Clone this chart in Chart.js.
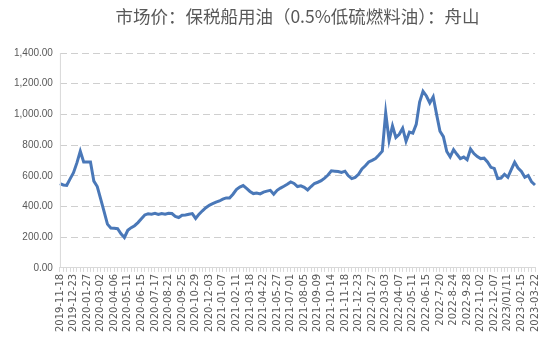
<!DOCTYPE html>
<html>
<head>
<meta charset="utf-8">
<script src="https://cdn.jsdelivr.net/npm/chart.js@4.4.1/dist/chart.umd.min.js"></script>
<style>
  html, body { margin: 0; padding: 0; background: #ffffff; }
  #wrap { width: 550px; height: 344px; }
</style>
</head>
<body>
<div id="wrap"><canvas id="myChart"></canvas></div>
<script>
//Chart title
const chartTitle = '市场价：保税船用油（0.5%低硫燃料油）：舟山';

//Dates shown on the x axis (one every 4 points)
const tickLabels = [
    '2019-11-18', '2019-12-23', '2020-01-27', '2020-03-02', '2020-04-06', '2020-05-11',
    '2020-06-15', '2020-07-17', '2020-08-21', '2020-09-25', '2020-10-29', '2020-12-03',
    '2021-01-07', '2021-02-11', '2021-03-18', '2021-04-22', '2021-05-27', '2021-07-01',
    '2021-08-05', '2021-09-09', '2021-10-14', '2021-11-18', '2021-12-23', '2022-01-27',
    '2022-03-03', '2022-04-07', '2022-05-11', '2022-06-15', '2022-7-20', '2022-8-24',
    '2022-9-28', '2022-11-02', '2022-12-07', '2023/01/11', '2023-02-15', '2023-03-22'
];

//Points between two shown dates
const pointsPerTick = 4;

//Price values
const prices = [
    549, 540, 538, 580, 620, 684, 760, 690, 690, 690,
    565, 530, 450, 368, 285, 260, 258, 255, 222, 198,
    245, 262, 275, 295, 320, 345, 352, 350, 355, 348,
    354, 350, 356, 354, 335, 328, 343, 345, 350, 354,
    322, 350, 372, 392, 408, 418, 428, 436, 448, 456,
    455, 480, 510, 526, 536, 518, 498, 484, 488, 482,
    494, 500, 505, 480, 505, 520, 532, 545, 560, 550,
    530, 535, 525, 508, 530, 550, 558, 568, 585, 605,
    632, 630, 628, 622, 630, 600, 582, 590, 610, 645,
    665, 690, 700, 712, 735, 760, 1010, 830, 925, 850,
    870, 910, 825, 885, 878, 935, 1080, 1150, 1120, 1075,
    1115, 1000, 890, 855, 758, 723, 770, 740, 712, 722,
    705, 775, 745, 725, 712, 715, 690, 655, 648, 582,
    585, 610, 590, 640, 688, 650, 628, 590, 602, 560,
    540
];

//Y axis range
const yMin = 0;
const yMax = 1400;
const yStep = 200;

//Build the category labels, only every 4th one has a date
const labels = [];
for (var i = 0; i < prices.length; i++)
{
    if (i % pointsPerTick == 0)
    {
        labels.push(tickLabels[i / pointsPerTick]);
    }
    else
    {
        labels.push('');
    }
}

const ctx = document.getElementById('myChart').getContext('2d');

const myChart = new Chart(ctx, {
    type: 'line',
    data: {
        labels: labels,
        datasets: [{
            data: prices,
            borderColor: '#4a78b8',
            borderWidth: 3,
            pointRadius: 0,
            tension: 0,
            fill: false
        }]
    },
    options: {
        responsive: true,
        maintainAspectRatio: false,
        animation: false,
        layout: {
            padding: { left: 7, right: 15, top: 6, bottom: 10 }
        },
        plugins: {
            legend: { display: false },
            tooltip: { enabled: false },
            title: {
                display: true,
                text: chartTitle,
                fullSize: false,
                color: '#595959',
                font: { family: "'Noto Sans CJK SC', sans-serif", size: 17.5, weight: 'normal' },
                padding: { top: 0, bottom: 26 }
            }
        },
        scales: {
            x: {
                offset: false,
                grid: {
                    display: true,
                    drawOnChartArea: false,
                    drawTicks: true,
                    tickLength: 4,
                    color: '#d9d9d9'
                },
                border: { color: '#d9d9d9' },
                ticks: {
                    autoSkip: false,
                    maxRotation: 90,
                    minRotation: 90,
                    padding: 2,
                    color: '#595959',
                    font: { family: "'DejaVu Sans', sans-serif", size: 10 }
                }
            },
            y: {
                min: yMin,
                max: yMax,
                grid: {
                    color: '#cfcfcf',
                    drawTicks: false
                },
                border: { display: false, dash: [7, 4] },
                ticks: {
                    stepSize: yStep,
                    padding: 7,
                    color: '#595959',
                    font: { family: "'Liberation Sans', sans-serif", size: 10 },
                    callback: function(value) {
                        return value.toLocaleString('en-US', { minimumFractionDigits: 2, maximumFractionDigits: 2 });
                    }
                }
            }
        }
    },
    plugins: [{
        //draw the solid light grey y axis line on the left
        id: 'yAxisLine',
        afterDraw: function(chart) {
            const c = chart.ctx;
            const area = chart.chartArea;
            c.save();
            c.strokeStyle = '#d9d9d9';
            c.lineWidth = 1;
            c.beginPath();
            c.moveTo(area.left + 0.5, area.top);
            c.lineTo(area.left + 0.5, area.bottom);
            c.stroke();
            c.restore();
        }
    }]
});
</script>
</body>
</html>
